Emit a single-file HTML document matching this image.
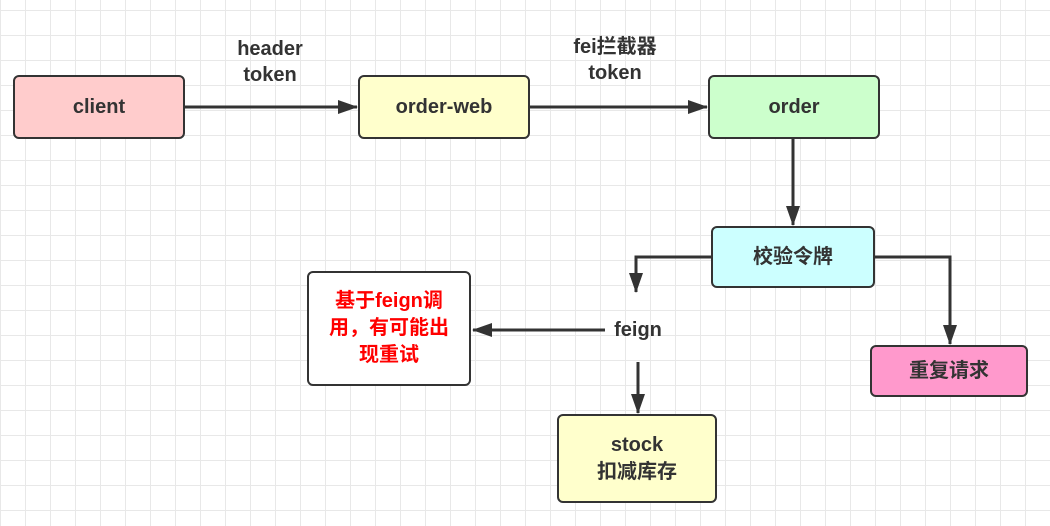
<!DOCTYPE html>
<html><head><meta charset="utf-8"><style>
body{margin:0;width:1050px;height:526px;overflow:hidden;background:#fff;
background-image:linear-gradient(#e8e8e8 1px,transparent 1px),linear-gradient(90deg,#e8e8e8 1px,transparent 1px);
background-size:25px 25px;background-position:0 10px;font-family:"Liberation Sans","Noto Sans CJK SC",sans-serif;}
.b{position:absolute;box-sizing:border-box;border:2.5px solid #333;border-radius:6px;display:flex;align-items:center;justify-content:center;text-align:center;font-weight:bold;font-size:20px;color:#333;line-height:27px}
.t{position:absolute;font-weight:bold;font-size:20px;color:#333;text-align:center;line-height:26px}
svg{position:absolute;left:0;top:0}
</style></head><body>
<svg width="1050" height="526"><defs><marker id="a" markerWidth="20" markerHeight="16" refX="19" refY="8" orient="auto" markerUnits="userSpaceOnUse"><path d="M0,1 L20,8 L0,15 z" fill="#333"/></marker></defs>
<g stroke="#333" stroke-width="3" fill="none" marker-end="url(#a)">
<path d="M185,107 H357"/>
<path d="M530,107 H707"/>
<path d="M793,139 V225"/>
<path d="M711,257 H636 V292"/>
<path d="M605,330 H473"/>
<path d="M638,362 V413"/>
<path d="M875,257 H950 V344"/>
</g></svg>
<div class="b" style="left:13px;top:75px;width:172px;height:64px;background:#ffcccc">client</div>
<div class="b" style="left:358px;top:75px;width:172px;height:64px;background:#ffffcc">order-web</div>
<div class="b" style="left:708px;top:75px;width:172px;height:64px;background:#ccffcc">order</div>
<div class="b" style="left:711px;top:226px;width:164px;height:62px;background:#ccffff">校验令牌</div>
<div class="b" style="left:870px;top:345px;width:158px;height:52px;background:#ff99cc">重复请求</div>
<div class="b" style="left:307px;top:271px;width:164px;height:115px;background:#fff;color:#ff0000;padding:0 4px">基于feign调<br>用，有可能出<br>现重试</div>
<div class="b" style="left:557px;top:414px;width:160px;height:89px;background:#ffffcc">stock<br>扣减库存</div>
<div class="t" style="left:210px;top:36px;width:120px">header<br>token</div>
<div class="t" style="left:550px;top:34px;width:130px">fei拦截器<br>token</div>
<div class="t" style="left:598px;top:317px;width:80px">feign</div>
</body></html>
